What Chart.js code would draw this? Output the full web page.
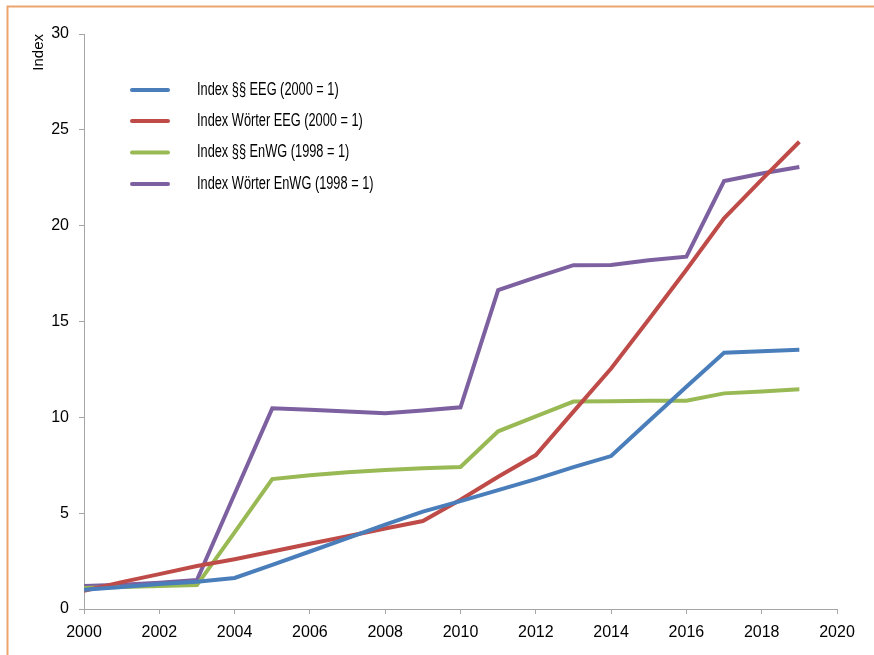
<!DOCTYPE html>
<html>
<head>
<meta charset="utf-8">
<script src="https://cdn.jsdelivr.net/npm/chart.js@4.4.1/dist/chart.umd.min.js"></script>
<style>
  html, body { margin: 0; padding: 0; background: #fff; }
  #wrap { width: 874px; height: 655px; position: relative; }
</style>
</head>
<body>
<div id="wrap"><canvas id="mycanvas" width="874" height="655"></canvas></div>
<script>
var years = [2000, 2001, 2002, 2003, 2004, 2005, 2006, 2007, 2008, 2009,
             2010, 2011, 2012, 2013, 2014, 2015, 2016, 2017, 2018, 2019];
var paragraphsEEG = [1.0, 1.15, 1.3, 1.42, 1.62, 2.3, 3.0, 3.7, 4.4, 5.08,
                     5.63, 6.2, 6.78, 7.4, 7.98, 9.8, 11.6, 13.37, 13.45, 13.53];
var wordsEEG = [0.95, 1.4, 1.82, 2.24, 2.6, 3.0, 3.4, 3.8, 4.2, 4.59,
                5.7, 6.9, 8.03, 10.3, 12.55, 15.1, 17.7, 20.38, 22.4, 24.38];
var paragraphsEnWG = [1.1, 1.15, 1.2, 1.25, 4.0, 6.78, 6.98, 7.13, 7.25, 7.34,
                      7.41, 9.27, 10.05, 10.82, 10.84, 10.87, 10.87, 11.25, 11.35, 11.46];
var wordsEnWG = [1.2, 1.27, 1.37, 1.51, 6.0, 10.47, 10.4, 10.3, 10.21, 10.36,
                 10.52, 16.64, 17.3, 17.94, 17.95, 18.2, 18.38, 22.33, 22.72, 23.06];
var seriesLabels = ['Index §§ EEG (2000 = 1)', 'Index Wörter EEG (2000 = 1)',
                    'Index §§ EnWG (1998 = 1)', 'Index Wörter EnWG (1998 = 1)'];
var seriesColors = ['#4a7ebb', '#be4b48', '#98b954', '#7d60a0'];
var xTicks = [2000, 2002, 2004, 2006, 2008, 2010, 2012, 2014, 2016, 2018, 2020];
var yTicks = [0, 5, 10, 15, 20, 25, 30];

var sans = "'Liberation Sans', Arial, sans-serif";
var axisColor = '#a6a6a6';

function toPoints(values) {
  var pts = [];
  for (var i in years) {
    pts.push({ x: years[i], y: values[i] });
  }
  return pts;
}

var allValues = [paragraphsEEG, wordsEEG, paragraphsEnWG, wordsEnWG];
var datasets = [];
for (var s in allValues) {
  datasets.push({
    label: seriesLabels[s],
    data: toPoints(allValues[s]),
    borderColor: seriesColors[s],
    backgroundColor: seriesColors[s],
    borderWidth: 4,
    pointRadius: 0,
    tension: 0,
    fill: false
  });
}

/* orange frame round the figure */
var framePlugin = {
  id: 'frame',
  beforeDraw: function(chart) {
    var c = chart.ctx;
    c.save();
    c.strokeStyle = '#eba56d';
    c.lineWidth = 2;
    c.beginPath();
    c.moveTo(7.5, 655);
    c.lineTo(7.5, 6.5);
    c.lineTo(874, 6.5);
    c.stroke();
    c.restore();
  }
};

/* legend drawn inside the plot area, top left (narrow text like the original) */
var innerLegend = {
  id: 'innerLegend',
  afterDatasetsDraw: function(chart) {
    var c = chart.ctx;
    var rows = [90, 121, 152.5, 184];
    c.save();
    chart.data.datasets.forEach(function(ds, i) {
      var y = rows[i];
      c.strokeStyle = ds.borderColor;
      c.lineWidth = 4;
      c.lineCap = 'round';
      c.beginPath();
      c.moveTo(132, y);
      c.lineTo(168, y);
      c.stroke();
      c.save();
      c.translate(197, y);
      c.scale(0.71, 1);
      c.font = "18px " + sans;
      c.textBaseline = 'middle';
      c.textAlign = 'left';
      c.fillStyle = '#000';
      c.fillText(ds.label, 0, 0);
      c.restore();
    });
    c.restore();
  }
};

var ctx = document.getElementById('mycanvas');
var lineGraph = new Chart(ctx, {
  type: 'line',
  data: { datasets: datasets },
  plugins: [framePlugin, innerLegend],
  options: {
    responsive: false,
    animation: false,
    layout: { padding: { top: 34, right: 37, left: 0, bottom: 0 } },
    plugins: {
      legend: { display: false },
      tooltip: { enabled: false }
    },
    scales: {
      x: {
        type: 'linear',
        min: 2000,
        max: 2020,
        afterFit: function(scale) { scale.height = 46; },
        afterBuildTicks: function(scale) {
          scale.ticks = xTicks.map(function(v) { return { value: v }; });
        },
        ticks: {
          color: '#000',
          font: { family: sans, size: 16 },
          padding: 9,
          maxRotation: 0,
          autoSkip: false,
          callback: function(v) { return String(v); }
        },
        grid: { display: true, drawOnChartArea: false, drawTicks: true, tickLength: 5, color: axisColor },
        border: { display: true, color: axisColor, width: 1 }
      },
      y: {
        min: 0,
        max: 30,
        afterFit: function(scale) { scale.width = 84; },
        afterBuildTicks: function(scale) {
          scale.ticks = yTicks.map(function(v) { return { value: v }; });
        },
        ticks: {
          color: '#000',
          font: { family: sans, size: 16 },
          padding: 10,
          callback: function(v) { return String(v); }
        },
        grid: { display: true, drawOnChartArea: false, drawTicks: true, tickLength: 5, color: axisColor },
        border: { display: true, color: axisColor, width: 1 },
        title: {
          display: true,
          text: 'Index',
          align: 'end',
          color: '#000',
          font: { family: sans, size: 15 },
          padding: { top: 30, bottom: 0 }
        }
      }
    }
  }
});
</script>
</body>
</html>
